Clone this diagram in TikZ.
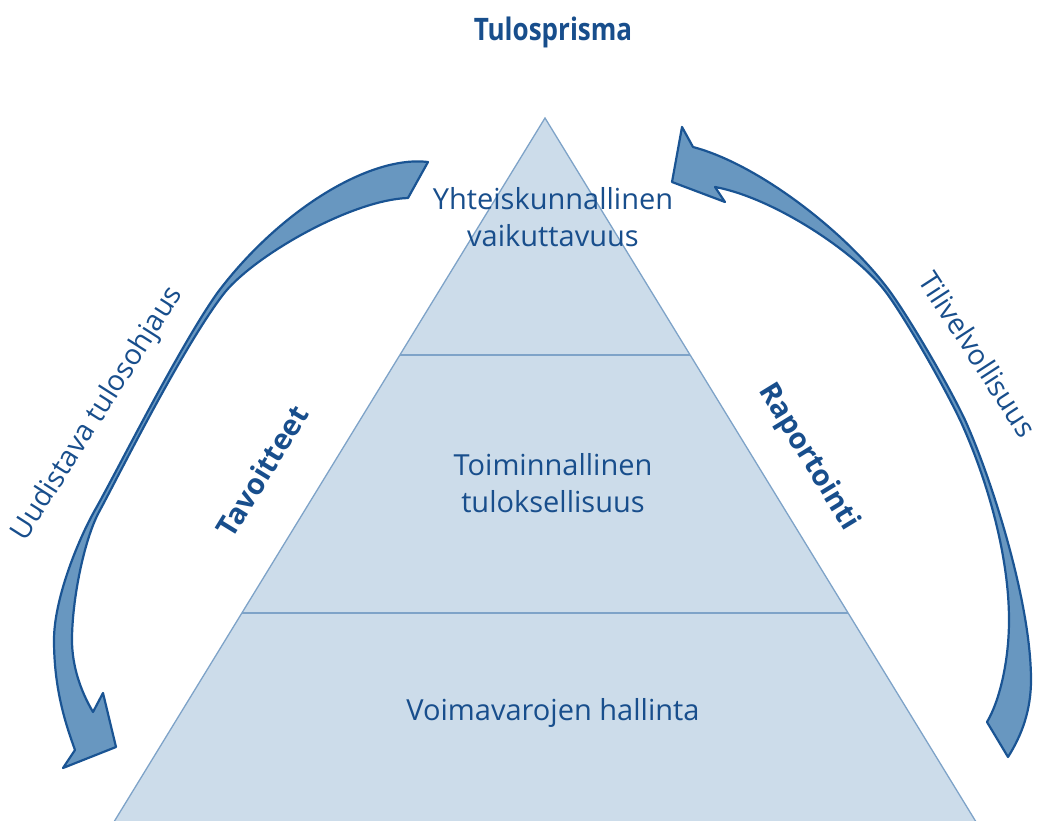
\documentclass[tikz,border=0pt]{standalone}
\usepackage{fontspec}
\setmainfont{Open Sans}
\definecolor{txt}{RGB}{24,78,140}
\definecolor{pyrfill}{RGB}{204,220,234}
\definecolor{pyredge}{RGB}{126,163,200}
\definecolor{arrfill}{RGB}{104,151,192}
\definecolor{arredge}{RGB}{26,84,147}
\begin{document}
\begin{tikzpicture}[x=1pt,y=-1pt,
  lbl/.style={text=txt,font=\fontsize{29}{37}\selectfont,align=center,inner sep=0pt},
  titlelbl/.style={text=txt,font=\fontsize{31}{36}\selectfont\bfseries,inner sep=0pt},
  sidelbl/.style={text=txt,font=\fontsize{29}{32}\selectfont\bfseries,inner sep=0pt},
  arrowlbl/.style={text=txt,font=\fontsize{28.5}{32}\selectfont,inner sep=0pt},
  ribbon/.style={fill=arrfill,draw=arredge,line width=2.2pt,line join=round},
  layeredge/.style={draw=pyredge,line width=1.3pt}]
\useasboundingbox (0,0) rectangle (1039,821);
\clip (0,0) rectangle (1039,821);
% pyramid
\coordinate (apex) at (545,118);
\coordinate (l1) at (400,355);
\coordinate (r1) at (690,355);
\coordinate (l2) at (242,613);
\coordinate (r2) at (848,613);
\coordinate (bl) at (109,830);
\coordinate (br) at (981,830);
\fill[pyrfill] (apex) -- (bl) -- (br) -- cycle;
\draw[layeredge] (bl) -- (apex) -- (br);
\draw[layeredge] (l1) -- (r1);
\draw[layeredge] (l2) -- (r2);
% layer texts (base = baseline of the last line)
\node[lbl,anchor=base] (top) at (553,247) {Yhteiskunnallinen\\vaikuttavuus};
\node[lbl,anchor=base] (mid) at (553,512) {Toiminnallinen\\tuloksellisuus};
\node[lbl,anchor=base] (bot) at (553,720) {Voimavarojen hallinta};
% title
\node[titlelbl] (title) at (553,32) {\scalebox{0.84}[1]{Tulosprisma}};
% left arrow: tail (T-L), outer edge T-A-B-C-N, head, inner edge K-C'-B'-A'-L
\coordinate (LT) at (428,162);
\coordinate (LA) at (218,292);
\coordinate (LB) at (95,510);
\coordinate (LC) at (54,640);
\coordinate (LN) at (75,750);
\coordinate (LK) at (93,712);
\coordinate (LC2) at (72,640);
\coordinate (LB2) at (99,512);
\coordinate (LA2) at (222,296);
\coordinate (LL) at (408,198);
\draw[ribbon] (LT) .. controls (370,155) and (280,210) .. (LA)
  .. controls (180,345) and (115,475) .. (LB)
  .. controls (77,542) and (54,600) .. (LC)
  .. controls (54,690) and (66,725) .. (LN)
  -- (63,768) -- (116,747) -- (103,693) -- (LK)
  .. controls (80,690) and (72,665) .. (LC2)
  .. controls (72,600) and (84,540) .. (LB2)
  .. controls (118,477) and (180,352) .. (LA2)
  .. controls (250,258) and (350,200) .. (LL) -- cycle;
% right arrow: head, inner edge W-V'-S'-X-P, tail P-Q, outer edge Q-R-S-V-U
\coordinate (RU) at (693,147);
\coordinate (RW) at (715,187);
\coordinate (RV2) at (888,295);
\coordinate (RS2) at (961,422);
\coordinate (RX) at (1009,620);
\coordinate (RP) at (987,722);
\coordinate (RQ) at (1008,757);
\coordinate (RR) at (1031,680);
\coordinate (RS) at (965,420);
\coordinate (RV) at (891,293);
\draw[ribbon] (RU) -- (682,127) -- (672,182) -- (725,202) -- (RW)
  .. controls (775,198) and (860,255) .. (RV2)
  .. controls (908,323) and (944,386) .. (RS2)
  .. controls (990,486) and (1009,560) .. (RX)
  .. controls (1009,660) and (1000,700) .. (RP)
  -- (RQ)
  .. controls (1022,735) and (1031,710) .. (RR)
  .. controls (1031,600) and (990,475) .. (RS)
  .. controls (948,384) and (911,321) .. (RV)
  .. controls (850,236) and (761,165) .. (RU) -- cycle;
% side labels
\node[sidelbl,rotate=58.5] (tav) at (262,471) {Tavoitteet};
\node[sidelbl,rotate=-58.5] (rap) at (808,457) {Raportointi};
\node[arrowlbl,rotate=57.6] (uud) at (98,414) {Uudistava tulosohjaus};
\node[arrowlbl,rotate=-57] (til) at (978,354) {Tilivelvollisuus};
\end{tikzpicture}
\end{document}
